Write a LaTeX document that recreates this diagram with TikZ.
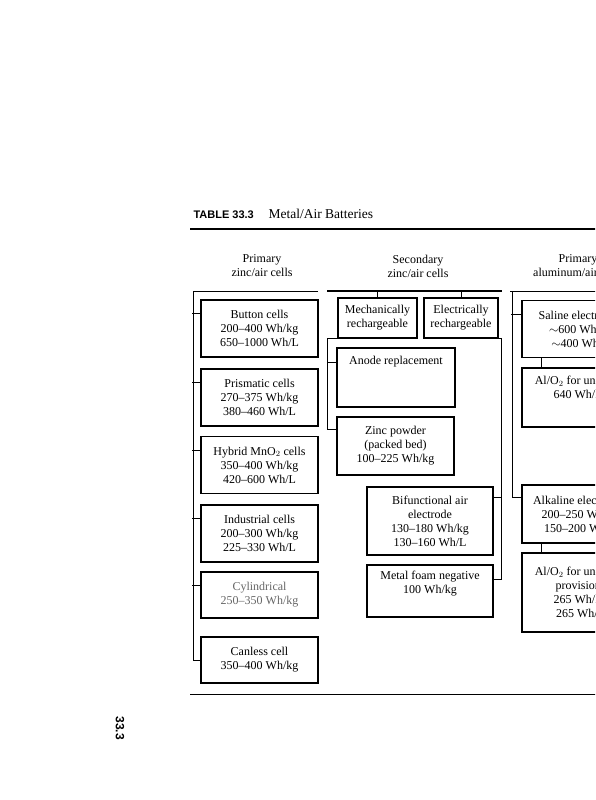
\documentclass[tikz,border=0pt]{standalone}
\usepackage{fontspec}
\setmainfont{Liberation Serif}
\setsansfont{Liberation Sans}
\usetikzlibrary{positioning}

\begin{document}
\begin{tikzpicture}[x=1pt,y=-1pt,
  cell/.style={draw,line width=1.1pt,align=center,inner sep=1pt,
    minimum width=117pt,minimum height=57pt,font=\fontsize{12}{14}\selectfont},
  celltext/.style={align=center,font=\fontsize{12}{14}\selectfont},
  link/.style={line width=0.8pt},
  head/.style={align=center,font=\fontsize{12}{14}\selectfont}]
\clip (0,0) rectangle (595,800);
% title and rules
\node[anchor=base west,font=\sffamily\bfseries\fontsize{11}{13}\selectfont] (tabno) at (190,218) {TABLE 33.3};
\node[anchor=base west,font=\fontsize{13.5}{15}\selectfont] (title) at (265,218) {Metal/Air Batteries};
\draw[line width=1.6pt] (190,229) -- (600,229);
\draw[line width=0.8pt] (190,694) -- (600,694);
\node[rotate=-90,font=\sffamily\bfseries\fontsize{12}{14}\selectfont] (runhead) at (120,728) {33.3};
% column heads
\node[head] (h1) at (262,266) {Primary\\zinc/air cells};
\node[head] (h2) at (418,266) {Secondary\\zinc/air cells};
\node[head] (h3) at (578,266) {Primary\\aluminum/air cells};

% primary zinc/air
\coordinate (top1) at (193,291);
\node[cell] (button) at (259.5,328.5) {Button cells\\200--400 Wh/kg\\650--1000 Wh/L};
\node[cell] (prism) at (259.5,397.5) {Prismatic cells\\270--375 Wh/kg\\380--460 Wh/L};
\node[cell] (hybrid) at (259.5,465) {Hybrid MnO$_2$ cells\\350--400 Wh/kg\\420--600 Wh/L};
\node[cell] (indust) at (259.5,533.5) {Industrial cells\\200--300 Wh/kg\\225--330 Wh/L};
\node[cell,minimum height=46pt,text=black!60] (cylin) at (259.5,595) {Cylindrical\\250--350 Wh/kg};
\node[cell,minimum height=46pt] (canless) at (259.5,660) {Canless cell\\350--400 Wh/kg};
\draw[link] (318,291) -- (top1) |- (canless.west);
\foreach \b in {button,prism,hybrid,indust,cylin}
  \draw[link] ([yshift=-14pt]\b.north west) -- ++(-8,0);

% secondary zinc/air
\draw[line width=1.5pt] (327,291) -- (502,291);
\coordinate (top2) at (327,291);
\node[cell,minimum width=79pt,minimum height=40pt] (mech) at (377.5,318) {Mechanically\\rechargeable};
\node[cell,minimum width=74pt,minimum height=40pt] (elec) at (461,318) {Electrically\\rechargeable};
\draw[link] (mech.north) -- (mech.north |- top2);
\draw[link] (elec.north) -- (elec.north |- top2);
\node[cell,minimum width=118pt,minimum height=59pt] (anode) at (396,377.5) {};
\node[celltext,below=5pt of anode.north] (anodetxt) {Anode replacement};
\node[cell,minimum width=117pt,minimum height=58pt] (zinc) at (395.5,446) {Zinc powder\\(packed bed)\\100--225 Wh/kg};
\node[cell,minimum width=126pt,minimum height=68pt] (bifunc) at (430,521) {Bifunctional air\\electrode\\130--180 Wh/kg\\130--160 Wh/L};
\node[cell,minimum width=126pt,minimum height=52pt] (foam) at (430,591) {Metal foam negative\\100 Wh/kg\\[4pt]};
\coordinate (m1) at ([xshift=-10pt]mech.south west);
\draw[link] (mech.south west) -- (m1) |- ([yshift=-13pt]zinc.north west);
\draw[link] ([yshift=-15pt]anode.north west) -- ([yshift=-15pt]anode.north west -| m1);
\coordinate (e1) at ([xshift=3pt]elec.south east);
\draw[link] (elec.south east) -- (e1) |- ([yshift=-15pt]foam.north east);
\draw[link] ([yshift=-11pt]bifunc.north east) -- ([yshift=-11pt]bifunc.north east -| e1);

% primary aluminum/air
\coordinate (top3) at (512,291);
\draw[link] (510,291) -- (600,291);
\node[cell] (saline) at (580.5,329) {Saline electrolyte\\$\sim$600 Wh/kg\\$\sim$400 Wh/L};
\node[cell,minimum height=59pt] (underw) at (580.5,397.5) {};
\node[celltext,below=5pt of underw.north] (underwtxt) {Al/O$_2$ for undersea\\640 Wh/kg};
\node[cell,minimum height=58pt] (alkal) at (580.5,514) {Alkaline electrolyte\\200--250 Wh/kg\\150--200 Wh/L};
\node[cell,minimum height=79pt] (provis) at (580.5,592.5) {Al/O$_2$ for undersea\\provisions\\265 Wh/kg\\265 Wh/L};
\draw[link] (top3) |- ([yshift=-13pt]alkal.north west);
\draw[link] ([yshift=-14pt]saline.north west) -- ++(-10,0);
\draw[link] ([xshift=20pt]saline.south west) -- ([xshift=20pt]underw.north west);
\draw[link] ([xshift=20pt]alkal.south west) -- ([xshift=20pt]provis.north west);
\end{tikzpicture}
\end{document}
